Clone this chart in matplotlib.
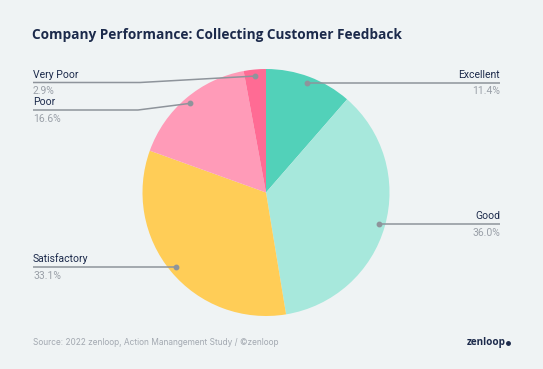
import numpy as np
import matplotlib.pyplot as plt

labels = ['Excellent', 'Good', 'Satisfactory', 'Poor', 'Very Poor']
shares = [11.4, 36.0, 33.1, 16.6, 2.9]
colors = ['#52d1b9', '#a7e8dc', '#ffcd57', '#ff9bb8', '#ff6b94']

bg = '#eff3f4'
navy = '#1c2a4b'
grey = '#9aa0a8'
line_c = '#8e949b'

W, H = 543, 369
fig = plt.figure(figsize=(W / 100, H / 100), dpi=100, facecolor=bg)
ax = fig.add_axes([0, 0, 1, 1])
ax.set_facecolor(bg)

cx, cy, R = 266, H - 192.5, 123.5
ax.pie(shares, colors=colors, startangle=90, counterclock=False,
       center=(cx, cy), radius=R, wedgeprops=dict(linewidth=0))
ax.set_xlim(0, W)
ax.set_ylim(0, H)
ax.axis('off')

# label layout: (side, line y in px from top, elbow x)
layout = {
    'Excellent': ('right', None, None),
    'Good': ('right', None, None),
    'Satisfactory': ('left', None, None),
    'Poor': ('left', 110, 138),
    'Very Poor': ('left', 82.5, 140),
}

start = 90.0
for lab, s in zip(labels, shares):
    ang = start - 360 * s / 100 / 2
    start -= 360 * s / 100
    a = np.deg2rad(ang)
    px, py = cx + 0.947 * R * np.cos(a), cy + 0.947 * R * np.sin(a)
    side, ly, ex = layout[lab]
    ly = py if ly is None else H - ly
    if side == 'right':
        xs, ys = [px, 500], [py, ly]
        tx, ha = 500, 'right'
    else:
        if ex is None:
            xs, ys = [px, 33], [py, ly]
        else:
            xs, ys = [px, ex, 33], [py, ly, ly]
        tx, ha = 33, 'left'
    ax.plot(xs, ys, color=line_c, lw=1.1, solid_capstyle='butt')
    ax.plot([px], [py], 'o', color=line_c, ms=3.2)
    ax.text(tx, ly + 3, lab, ha=ha, va='bottom', fontsize=7.5,
            family='Roboto', color=navy)
    ax.text(tx, ly - 3.5, f'{s:.1f}%', ha=ha, va='top', fontsize=7.5,
            family='Roboto', color=grey)

fig.text(32 / W, 1 - 35 / H, 'Company Performance: Collecting Customer Feedback',
         ha='left', va='center', fontsize=9.8, fontweight='bold',
         family='Open Sans', color=navy)
fig.text(33 / W, 1 - 342.5 / H, 'Source: 2022 zenloop, Action Manangement Study / ©zenloop',
         ha='left', va='center', fontsize=6.0, family='Inter', color='#a3a9b1')
fig.text(467 / W, 1 - 342.5 / H, 'zenloop', ha='left', va='center', fontsize=7.2,
         fontweight='bold', family='Open Sans', color=navy)
ax.plot([508], [H - 343], 'o', color=navy, ms=2.5)

fig.savefig('out.png', dpi=100, facecolor=bg)
